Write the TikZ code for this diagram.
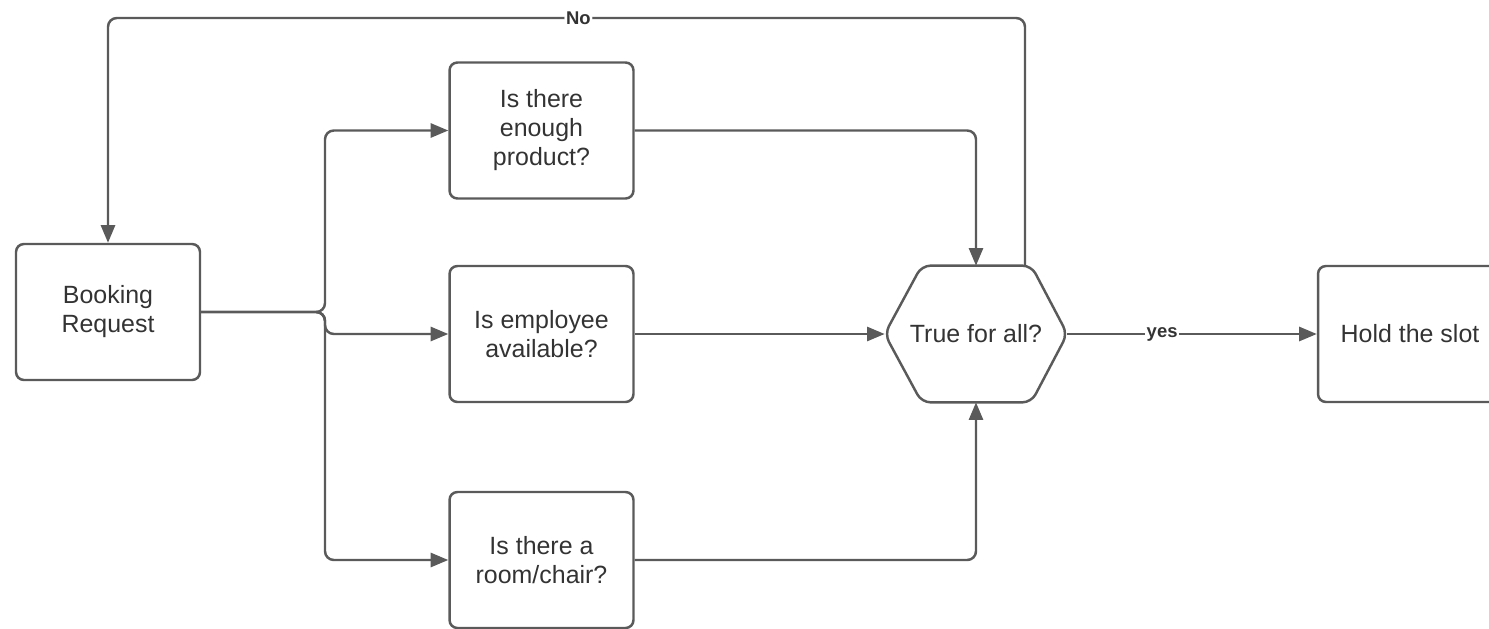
\documentclass[tikz,border=0pt]{standalone}
\usepackage{fontspec}
\setmainfont{Liberation Sans}
\usetikzlibrary{arrows.meta,calc}
\definecolor{linegray}{HTML}{5A5A5A}
\definecolor{textgray}{HTML}{333333}
\begin{document}
\begin{tikzpicture}[x=0.02cm,y=-0.02cm,
  line/.style={draw=linegray,line width=1.4pt},
  flow/.style={line,-{Triangle[length=10pt,width=8pt]}},
  txt/.style={align=center,text=textgray,font=\fontsize{14.2}{16.5}\selectfont,inner sep=0pt},
  stepbox/.style={txt,draw=linegray,line width=1.4pt,rounded corners=4.5pt,
    minimum width=3.68cm,minimum height=2.72cm},
  lbl/.style={fill=white,text=textgray,font=\bfseries\fontsize{10.5}{12}\selectfont,inner sep=1pt}]
\useasboundingbox (0,0) rectangle (1489,629);

% process boxes
\node[stepbox] (book) at (108,312) {Booking\\Request};
\node[stepbox] (prod) at (541.5,130.5) {Is there\\enough\\product?};
\node[stepbox] (emp)  at (541.5,334) {Is employee\\available?};
\node[stepbox] (room) at (541.5,560) {Is there a\\room/chair?};
\node[stepbox] (hold) at (1410,334) {Hold the slot};

% decision hexagon
\node[txt,minimum width=3.64cm,minimum height=2.72cm] (hex) at (976,334) {True for all?};
\draw[line,rounded corners=5pt]
  (hex.west) -- ($(hex.north west)+(37,0)$) -- ($(hex.north east)+(-36,0)$)
  -- (hex.east) -- ($(hex.south east)+(-36,0)$) -- ($(hex.south west)+(37,0)$) -- cycle;

% fan-out from the request
\draw[flow,rounded corners=5pt] (book.east) -- (325,312) |- (prod.west);
\draw[flow,rounded corners=5pt] (book.east) -- (325,312) |- (emp.west);
\draw[flow,rounded corners=5pt] (book.east) -- (325,312) |- (room.west);

% checks into the decision
\draw[flow,rounded corners=5pt] (prod.east) -| (hex.north);
\draw[flow] (emp.east) -- (hex.west);
\draw[flow,rounded corners=5pt] (room.east) -| (hex.south);

% outcomes
\coordinate (hexno) at ($(hex.north)+(49,0)$);
\coordinate (topline) at (0,18);
\draw[flow,rounded corners=5pt] (hexno) -- (hexno |- topline)
  -- node[lbl,pos=0.487]{No} (book.north |- topline) -- (book.north);
\draw[flow] (hex.east) -- node[lbl,pos=0.38]{yes} (hold.west);
\end{tikzpicture}
\end{document}
